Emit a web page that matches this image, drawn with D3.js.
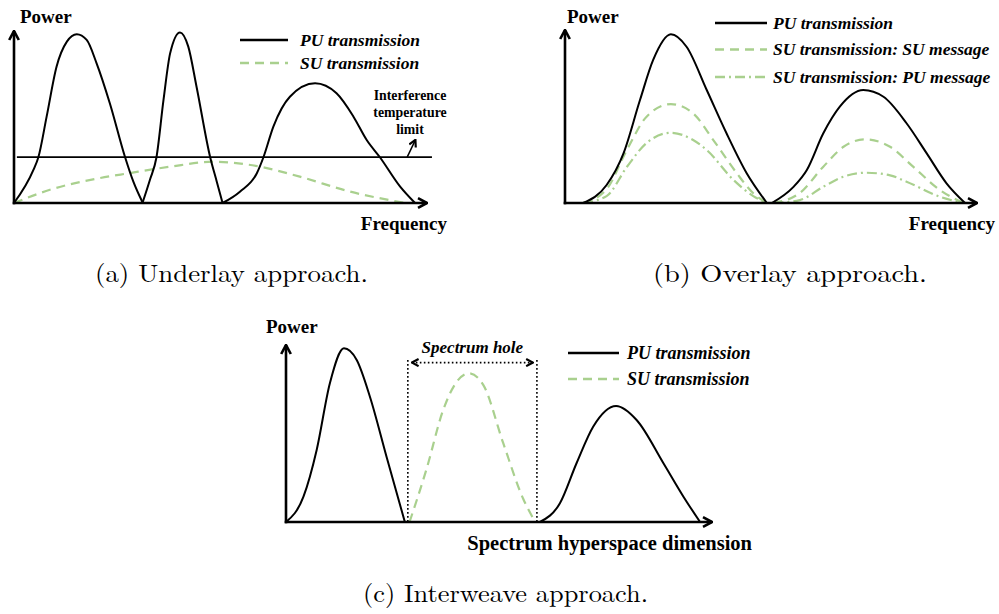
<!DOCTYPE html>
<html><head><meta charset="utf-8">
<script src="https://cdn.jsdelivr.net/npm/d3@7"></script>
<style>body{margin:0;background:#fff}svg{display:block}</style>
</head><body>
<svg id="chart" width="999" height="614"></svg>
<script>
// ---------------- DATA ----------------
// (a) Underlay: x = frequency (0-100), y = power (0-100)
const underlayPU = [
  [[0,0],[4.7,19.2],[5.9,26.6],[7.9,50.2],[10.3,79.2],[12.8,93.8],[15.2,98.1],[17.6,94.8],[20.0,81.2],[23.2,58.0],[26.9,26.6],[28.9,12.4],[31.2,0]],
  [[31.1,0],[32.9,13.4],[34.5,26.6],[36.2,59.9],[37.8,87.0],[40.2,99.2],[42.2,90.9],[44.2,67.6],[47.5,26.6],[49.1,12.4],[50.5,0]],
  [[50.5,0],[54.7,6.6],[58.8,17.3],[60.4,26.6],[62.8,44.4],[66.8,61.8],[72.9,69.6],[78.1,63.8],[82.2,50.2],[85.4,36.6],[88.6,26.6],[93.5,9.5],[97.1,0]]
];
const underlaySU = [[0,0],[8.7,7.7],[20.8,14.5],[27.8,17.3],[37.8,21.1],[48.3,24.0],[59.6,21.1],[69.2,15.3],[81.4,6.6],[94.7,0]];
const interferenceLimit = 26.7;
const interferenceLabel = ["Interference", "temperature", "limit"];

// (b) Overlay
const overlayPU = [
  [[4.4,0],[10.1,10.4],[14.2,28.7],[18.2,59.5],[21.4,82.7],[25.7,97.5],[29.5,90.3],[34.4,65.3],[39.2,40.3],[44.1,17.2],[49.0,0]],
  [[50.2,0],[55.4,9.2],[58.7,19.1],[62.7,40.3],[66.7,55.7],[72.4,65.3],[77.3,61.4],[82.9,46.1],[87.8,28.7],[92.6,11.4],[97.1,0]]
];
const overlaySUsu = [
  [[4.4,0],[10.1,8.0],[15.0,30.6],[19.8,49.9],[25.7,57.2],[31.1,51.8],[36.0,36.4],[41.7,17.2],[45.7,5.6],[49.0,0]],
  [[50.6,0],[57.0,5.8],[62.7,21.0],[67.6,32.5],[72.8,36.8],[78.9,32.5],[84.5,21.0],[91.0,7.5],[96.7,0]]
];
const overlaySUpu = [
  [[4.4,0],[10.1,4.0],[15.0,20.8],[19.8,34.7],[25.7,40.6],[31.1,36.4],[34.4,30.6],[40.9,13.3],[45.7,4.0],[49.0,0]],
  [[50.6,0],[57.0,1.7],[62.7,9.4],[67.6,15.2],[73.2,17.5],[78.9,16.0],[82.9,12.3],[91.0,3.6],[96.7,0]]
];

// (c) Interweave
const interweavePU = [
  [[0,0],[4.1,14.3],[7.2,40.7],[10.3,78.4],[13.6,98.1],[16.6,91.5],[19.7,70.8],[23.6,36.9],[27.9,0]],
  [[59.6,0],[64.3,10.6],[68.2,33.2],[72.1,53.8],[77.5,65.5],[82.3,57.6],[88.6,33.2],[93.3,14.3],[97.2,0]]
];
const interweaveSU = [[[29.0,0],[33.0,30.0],[36.9,63.3],[40.1,79.3],[43.0,84.0],[46.3,77.5],[51.0,44.5],[55.7,13.0],[58.5,0]]];
const spectrumHole = [28.6, 58.9];
const spectrumHoleTop = 91.5;

// Labels
const legendA = ["PU transmission", "SU transmission"];
const legendB = ["PU transmission", "SU transmission: SU message", "SU transmission: PU message"];
const legendC = ["PU transmission", "SU transmission"];
const captions = ["(a) Underlay approach.", "(b) Overlay approach.", "(c) Interweave approach."];

// ---------------- DRAWING ----------------
const svg = d3.select("#chart");
const GREEN = "#a9d08e";
const SERIF = "'Liberation Serif','Times New Roman',serif";

const defs = svg.append("defs");
function marker(id, size, sw) {
  defs.append("marker").attr("id", id)
    .attr("viewBox", "0 0 10 10").attr("refX", 9).attr("refY", 5)
    .attr("markerWidth", size).attr("markerHeight", size)
    .attr("markerUnits", "userSpaceOnUse").attr("orient", "auto-start-reverse")
    .append("path").attr("d", "M1.5,1 L9,5 L1.5,9")
    .attr("fill", "none").attr("stroke", "#000").attr("stroke-width", sw)
    .attr("stroke-linejoin", "miter");
}
marker("axisArrow", 12, 2.2);
marker("smallArrow", 9, 2.4);

const styles = {
  pu: {stroke: "#000", dash: null, w: 2},
  su: {stroke: GREEN, dash: "9,6", w: 2.2},
  sudot: {stroke: GREEN, dash: "10,4,2,4", w: 2.2}
};

function text(g, str, x, y, o) {
  const t = g.append("text").attr("x", x).attr("y", y).text(str)
    .attr("font-family", o.family || SERIF)
    .attr("font-size", o.size)
    .attr("font-weight", o.weight || "bold")
    .attr("font-style", o.style || "normal")
    .attr("text-anchor", o.anchor || "start")
    .attr("fill", "#000");
  if (o.width) t.attr("textLength", o.width).attr("lengthAdjust", "spacingAndGlyphs");
  return t;
}

function panel(cfg) {
  const g = svg.append("g");
  const x = d3.scaleLinear().domain([0, 100]).range([cfg.x0, cfg.x1]);
  const y = d3.scaleLinear().domain([0, 100]).range([cfg.y0, cfg.y1]);
  const line = d3.line().x(d => x(d[0])).y(d => y(d[1])).curve(d3.curveMonotoneX);

  // series
  cfg.series.forEach(s => {
    const st = styles[s.style];
    s.data.forEach(seg => {
      g.append("path").attr("d", line(seg)).attr("fill", "none")
        .attr("stroke", st.stroke).attr("stroke-width", st.w)
        .attr("stroke-dasharray", st.dash);
    });
  });

  // axes
  g.append("path").attr("d", `M${x(0)},${y(0) + 1.3}V${y(100)}`)
    .attr("stroke", "#000").attr("stroke-width", 2.6).attr("fill", "none")
    .attr("marker-end", "url(#axisArrow)");
  g.append("path").attr("d", `M${x(0) - 1.3},${y(0)}H${x(100)}`)
    .attr("stroke", "#000").attr("stroke-width", 2.6).attr("fill", "none")
    .attr("marker-end", "url(#axisArrow)");

  // axis labels
  text(g, "Power", cfg.powerX, cfg.powerY, {size: 19});
  text(g, cfg.xLabel, cfg.xLabelX, cfg.xLabelY, {size: cfg.xLabelSize, anchor: "end"});

  // legend
  cfg.legend.forEach((lab, i) => {
    const ly = cfg.legY[i];
    const st = styles[cfg.legStyle[i]];
    g.append("line").attr("x1", cfg.legX1).attr("x2", cfg.legX2)
      .attr("y1", ly).attr("y2", ly)
      .attr("stroke", st.stroke).attr("stroke-width", st.w + 0.3)
      .attr("stroke-dasharray", st.dash);
    text(g, lab, cfg.legTX, ly + 5.5, {size: cfg.legSize, style: "italic"});
  });
  return {g, x, y};
}

// (a)
const A = panel({
  x0: 14, x1: 427, y0: 203, y1: 31,
  series: [{style: "su", data: [underlaySU]}, {style: "pu", data: underlayPU}],
  powerX: 20, powerY: 23, xLabel: "Frequency", xLabelX: 447, xLabelY: 230, xLabelSize: 19,
  legend: legendA, legStyle: ["pu", "su"], legY: [40, 63], legX1: 240, legX2: 288, legTX: 300, legSize: 17.5
});
A.g.append("line").attr("x1", A.x(0.7)).attr("x2", A.x(101.2))
  .attr("y1", A.y(interferenceLimit)).attr("y2", A.y(interferenceLimit))
  .attr("stroke", "#000").attr("stroke-width", 1.6);
A.g.append("line").attr("x1", A.x(95.2)).attr("y1", A.y(interferenceLimit))
  .attr("x2", A.x(97.2)).attr("y2", A.y(interferenceLimit + 10))
  .attr("stroke", "#000").attr("stroke-width", 1.5).attr("marker-end", "url(#smallArrow)");
interferenceLabel.forEach((s, i) => text(A.g, s, 410, 100 + i * 17, {size: 13.8, anchor: "middle"}));

// (b)
panel({
  x0: 565, x1: 977, y0: 203, y1: 30,
  series: [{style: "sudot", data: overlaySUpu}, {style: "su", data: overlaySUsu}, {style: "pu", data: overlayPU}],
  powerX: 567, powerY: 23, xLabel: "Frequency", xLabelX: 995, xLabelY: 230, xLabelSize: 19,
  legend: legendB, legStyle: ["pu", "su", "sudot"], legY: [23, 49.5, 77], legX1: 715, legX2: 767, legTX: 773, legSize: 17.5
});

// (c)
const C = panel({
  x0: 286, x1: 712, y0: 522, y1: 345,
  series: [{style: "su", data: interweaveSU}, {style: "pu", data: interweavePU}],
  powerX: 266, powerY: 333, xLabel: "Spectrum hyperspace dimension", xLabelX: 752, xLabelY: 550, xLabelSize: 20.5,
  legend: legendC, legStyle: ["pu", "su"], legY: [353, 379], legX1: 568, legX2: 619, legTX: 627, legSize: 18
});
spectrumHole.forEach(v => {
  C.g.append("line").attr("x1", C.x(v)).attr("x2", C.x(v))
    .attr("y1", C.y(spectrumHoleTop)).attr("y2", C.y(0))
    .attr("stroke", "#000").attr("stroke-width", 1.6).attr("stroke-dasharray", "1.6,2.4");
});
C.g.append("line").attr("x1", C.x(spectrumHole[0]) + 4).attr("x2", C.x(spectrumHole[1]) - 4)
  .attr("y1", C.y(spectrumHoleTop) + 2.5).attr("y2", C.y(spectrumHoleTop) + 2.5)
  .attr("stroke", "#000").attr("stroke-width", 1.8).attr("stroke-dasharray", "1.6,2.4")
  .attr("marker-start", "url(#smallArrow)").attr("marker-end", "url(#smallArrow)");
text(C.g, "Spectrum hole", (C.x(spectrumHole[0]) + C.x(spectrumHole[1])) / 2, 353, {size: 17, style: "italic", anchor: "middle"});

// captions
const CAPF = "'Latin Modern Roman','CMU Serif','Liberation Serif',serif";
[[95, 282, 273], [653, 282, 274], [363, 602, 285]].forEach((p, i) => {
  text(svg, captions[i], p[0], p[1], {size: 25, weight: "normal", family: CAPF, width: p[2]});
});
</script>
</body></html>
